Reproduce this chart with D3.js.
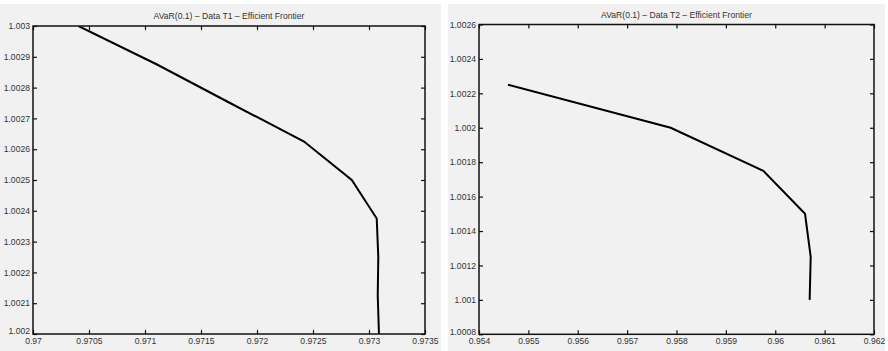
<!DOCTYPE html>
<html>
<head>
<meta charset="utf-8">
<script src="https://cdn.jsdelivr.net/npm/d3@7"></script>
<style>
  html, body { margin: 0; padding: 0; background: #ffffff; }
  svg { display: block; }
  text { font-family: "Liberation Sans", Arial, Helvetica, sans-serif; fill: #333; }
</style>
</head>
<body>
<svg id="chart" width="888" height="351"></svg>
<script>
// Efficient frontier, data set T1: AVaR(0.1) risk (x) vs expected return (y)
const t1Risk   = [0.970406, 0.971107, 0.971759, 0.972420, 0.972846, 0.973069, 0.973083, 0.973078, 0.973089];
const t1Return = [1.003, 1.002875, 1.00275, 1.002625, 1.0025, 1.002375, 1.00225, 1.002125, 1.002];
const t1XTicks = [0.97, 0.9705, 0.971, 0.9715, 0.972, 0.9725, 0.973, 0.9735];
const t1YTicks = [1.002, 1.0021, 1.0022, 1.0023, 1.0024, 1.0025, 1.0026, 1.0027, 1.0028, 1.0029, 1.003];

// Efficient frontier, data set T2
const t2Risk   = [0.954587, 0.957882, 0.959758, 0.960603, 0.960718, 0.960697];
const t2Return = [1.00225, 1.002, 1.00175, 1.0015, 1.00125, 1.001];
const t2XTicks = [0.954, 0.955, 0.956, 0.957, 0.958, 0.959, 0.96, 0.961, 0.962];
const t2YTicks = [1.0008, 1.001, 1.0012, 1.0014, 1.0016, 1.0018, 1.002, 1.0022, 1.0024, 1.0026];

const titles = ["AVaR(0.1) \u2013 Data T1 \u2013 Efficient Frontier",
                "AVaR(0.1) \u2013 Data T2 \u2013 Efficient Frontier"];

const svg = d3.select("#chart");
const fmt = v => String(+v.toFixed(6));
const FS = 8.6;

const panels = [
  { bg: [0, 4, 441, 347], box: [33, 26, 425, 334], risk: t1Risk, ret: t1Return,
    xTicks: t1XTicks, yTicks: t1YTicks, title: titles[0] },
  { bg: [448, 4, 437, 347], box: [479, 24.5, 874, 334.3], risk: t2Risk, ret: t2Return,
    xTicks: t2XTicks, yTicks: t2YTicks, title: titles[1] }
];

panels.forEach((p, i) => {
  const [x0, y0, x1, y1] = p.box;
  const g = svg.append("g");

  g.append("rect")
    .attr("x", p.bg[0]).attr("y", p.bg[1])
    .attr("width", p.bg[2]).attr("height", p.bg[3])
    .attr("fill", "#f1f1f1");

  const x = d3.scaleLinear()
    .domain([p.xTicks[0], p.xTicks[p.xTicks.length - 1]])
    .range([x0, x1]);
  const y = d3.scaleLinear()
    .domain([p.yTicks[0], p.yTicks[p.yTicks.length - 1]])
    .range([y1, y0]);

  const clipId = "clip" + i;
  g.append("clipPath").attr("id", clipId)
    .append("rect").attr("x", x0).attr("y", y0)
    .attr("width", x1 - x0).attr("height", y1 - y0);

  // frontier line
  const pts = p.risk.map((r, k) => [r, p.ret[k]]);
  g.append("path")
    .datum(pts)
    .attr("clip-path", `url(#${clipId})`)
    .attr("fill", "none")
    .attr("stroke", "#000")
    .attr("stroke-width", 2)
    .attr("stroke-linejoin", "miter")
    .attr("d", d3.line().x(d => x(d[0])).y(d => y(d[1])));

  // axes: ticks point inward on all four sides, labels on bottom/left only
  const tl = 4;
  const axBottom = d3.axisBottom(x).tickValues(p.xTicks).tickFormat(fmt)
    .tickSizeInner(-tl).tickSizeOuter(0).tickPadding(4);
  const axTop = d3.axisTop(x).tickValues(p.xTicks).tickFormat("")
    .tickSizeInner(-tl).tickSizeOuter(0);
  const axLeft = d3.axisLeft(y).tickValues(p.yTicks).tickFormat(fmt)
    .tickSizeInner(-tl).tickSizeOuter(0).tickPadding(3);
  const axRight = d3.axisRight(y).tickValues(p.yTicks).tickFormat("")
    .tickSizeInner(-tl).tickSizeOuter(0);

  const style = sel => {
    sel.selectAll(".domain").remove();
    sel.selectAll("line").attr("stroke", "#111").attr("stroke-width", 1.2);
    sel.selectAll("text").attr("font-size", FS)
      .attr("font-family", "Liberation Sans, Arial, sans-serif").attr("fill", "#333");
  };

  g.append("g").attr("transform", `translate(0,${y1})`).call(axBottom).call(style);
  g.append("g").attr("transform", `translate(0,${y0})`).call(axTop).call(style);
  const left = g.append("g").attr("transform", `translate(${x0},0)`).call(axLeft).call(style);
  g.append("g").attr("transform", `translate(${x1},0)`).call(axRight).call(style);

  g.selectAll("g.tick text").each(function () {
    const t = d3.select(this);
    if (t.attr("y") !== null && +t.attr("y") > 0) t.attr("dy", "0.71em");
    else t.attr("dy", "0.32em");
  });

  // lift the lowest y label a little so it clears the first x label
  left.selectAll("g.tick").filter(d => d === p.yTicks[0])
    .select("text").attr("y", -2.8);

  // axes box
  g.append("rect")
    .attr("x", x0).attr("y", y0)
    .attr("width", x1 - x0).attr("height", y1 - y0)
    .attr("fill", "none").attr("stroke", "#111").attr("stroke-width", 1.5);

  g.append("text")
    .attr("x", (x0 + x1) / 2).attr("y", y0 - 7)
    .attr("text-anchor", "middle")
    .attr("font-size", FS)
    .text(p.title);
});
</script>
</body>
</html>
